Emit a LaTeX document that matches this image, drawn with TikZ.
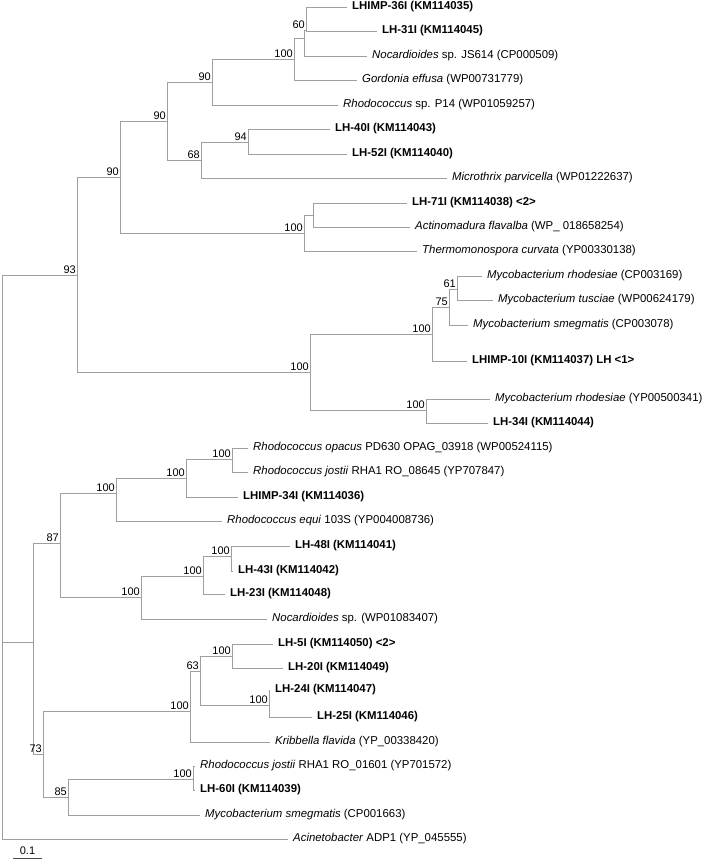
\documentclass[tikz,border=0pt]{standalone}
\usepackage{fontspec}
\setmainfont{Liberation Sans}
\usetikzlibrary{positioning,calc}

\tikzset{
  branch/.style={draw=gray!75, line width=0.8pt},
  leaf/.style={anchor=west, inner xsep=5pt, inner ysep=0pt, font=\fontsize{11.4}{13}\selectfont},
  boot/.style={anchor=south east, inner sep=1pt, font=\fontsize{11}{12}\selectfont},
}

\begin{document}
\begin{tikzpicture}[x=1pt, y=-1pt]
  \useasboundingbox (0,0) rectangle (709,861);

  % internal nodes
  \coordinate (root) at (2,275);
  \coordinate (n93) at (77,275);
  \coordinate (n90a) at (120,177);
  \coordinate (n90b) at (167,121);
  \coordinate (n90c) at (212,82);
  \coordinate (n100a) at (294,59);
  \coordinate (nnoc) at (304,38);
  \coordinate (n60) at (306,30);
  \coordinate (n68) at (201,160);
  \coordinate (n94) at (248,142);
  \coordinate (n100b) at (304,233);
  \coordinate (nact) at (313,215);
  \coordinate (n100c) at (310,372);
  \coordinate (n100myc) at (432,334);
  \coordinate (n75) at (449,307);
  \coordinate (n61) at (457,289);
  \coordinate (n100rho) at (426,410);
  \coordinate (nmid) at (33,642);
  \coordinate (n87) at (60,543);
  \coordinate (n100d) at (116,493);
  \coordinate (n100e) at (186,478);
  \coordinate (n100f) at (232,459);
  \coordinate (n100g) at (141,597);
  \coordinate (n100h) at (203,576);
  \coordinate (n100i) at (231,556);
  \coordinate (n73) at (43,754);
  \coordinate (n100j) at (190,711);
  \coordinate (n63) at (200,671);
  \coordinate (n100k) at (232,656);
  \coordinate (n100l) at (269,705);
  \coordinate (n85) at (68,797);
  \coordinate (n100m) at (193,779);

  % leaves
  \node[leaf] (lhimp36) at (347,7) {\textbf{LHIMP-36I (KM114035)}};
  \node[leaf] (lh31) at (377,31) {\textbf{LH-31I (KM114045)}};
  \node[leaf] (nocjs) at (367,56) {\textit{Nocardioides} sp. JS614 (CP000509)};
  \node[leaf] (gord) at (357,80) {\textit{Gordonia effusa} (WP00731779)};
  \node[leaf] (rhop14) at (338,105) {\textit{Rhodococcus} sp. P14 (WP01059257)};
  \node[leaf] (lh40) at (330,129) {\textbf{LH-40I (KM114043)}};
  \node[leaf] (lh52) at (347,154) {\textbf{LH-52I (KM114040)}};
  \node[leaf] (micro) at (447,178) {\textit{Microthrix parvicella} (WP01222637)};
  \node[leaf] (lh71) at (407,203) {\textbf{LH-71I (KM114038) <2>}};
  \node[leaf] (actino) at (410,227) {\textit{Actinomadura flavalba} (WP\_ 018658254)};
  \node[leaf] (thermo) at (417,251) {\textit{Thermomonospora curvata} (YP00330138)};
  \node[leaf] (mrhoA) at (482,276) {\textit{Mycobacterium rhodesiae} (CP003169)};
  \node[leaf] (mtus) at (493,300) {\textit{Mycobacterium tusciae} (WP00624179)};
  \node[leaf] (msmegA) at (468,325) {\textit{Mycobacterium smegmatis} (CP003078)};
  \node[leaf] (lhimp10) at (467,361) {\textbf{LHIMP-10I (KM114037) LH <1>}};
  \node[leaf] (mrhoB) at (490,399) {\textit{Mycobacterium rhodesiae} (YP00500341)};
  \node[leaf] (lh34) at (488,423) {\textbf{LH-34I (KM114044)}};
  \node[leaf] (rhopac) at (248,448) {\textit{Rhodococcus opacus} PD630 OPAG\_03918 (WP00524115)};
  \node[leaf] (rhjosA) at (248,472) {\textit{Rhodococcus jostii} RHA1 RO\_08645 (YP707847)};
  \node[leaf] (lhimp34) at (238,497) {\textbf{LHIMP-34I (KM114036)}};
  \node[leaf] (rhequi) at (222,521) {\textit{Rhodococcus equi} 103S (YP004008736)};
  \node[leaf] (lh48) at (290,546) {\textbf{LH-48I (KM114041)}};
  \node[leaf] (lh43) at (233,571) {\textbf{LH-43I (KM114042)}};
  \node[leaf] (lh23) at (225,594) {\textbf{LH-23I (KM114048)}};
  \node[leaf] (nocsp) at (267,619) {\textit{Nocardioides} sp. (WP01083407)};
  \node[leaf] (lh5) at (273,644) {\textbf{LH-5I (KM114050) <2>}};
  \node[leaf] (lh20) at (283,668) {\textbf{LH-20I (KM114049)}};
  \node[leaf] (lh24) at (270,690) {\textbf{LH-24I (KM114047)}};
  \node[leaf] (lh25) at (312,717) {\textbf{LH-25I (KM114046)}};
  \node[leaf] (kribb) at (270,742) {\textit{Kribbella flavida} (YP\_00338420)};
  \node[leaf] (rhjosB) at (195,766) {\textit{Rhodococcus jostii} RHA1 RO\_01601 (YP701572)};
  \node[leaf] (lh60) at (195,790) {\textbf{LH-60I (KM114039)}};
  \node[leaf] (msmegB) at (200,815) {\textit{Mycobacterium smegmatis} (CP001663)};
  \node[leaf] (acin) at (288,839) {\textit{Acinetobacter} ADP1 (YP\_045555)};

  % branches
  \draw[branch] (root) |- (n93);
  \draw[branch] (root) |- (nmid);
  \draw[branch] (root) |- (acin.west);
  \draw[branch] (n93) |- (n90a);
  \draw[branch] (n93) |- (n100c);
  \draw[branch] (n90a) |- (n90b);
  \draw[branch] (n90a) |- (n100b);
  \draw[branch] (n90b) |- (n90c);
  \draw[branch] (n90b) |- (n68);
  \draw[branch] (n90c) |- (n100a);
  \draw[branch] (n90c) |- (rhop14.west);
  \draw[branch] (n100a) |- (nnoc);
  \draw[branch] (n100a) |- (gord.west);
  \draw[branch] (nnoc) |- (n60);
  \draw[branch] (nnoc) |- (nocjs.west);
  \draw[branch] (n60) |- (lhimp36.west);
  \draw[branch] (n60) |- (lh31.west);
  \draw[branch] (n68) |- (n94);
  \draw[branch] (n68) |- (micro.west);
  \draw[branch] (n94) |- (lh40.west);
  \draw[branch] (n94) |- (lh52.west);
  \draw[branch] (n100b) |- (nact);
  \draw[branch] (n100b) |- (thermo.west);
  \draw[branch] (nact) |- (lh71.west);
  \draw[branch] (nact) |- (actino.west);
  \draw[branch] (n100c) |- (n100myc);
  \draw[branch] (n100c) |- (n100rho);
  \draw[branch] (n100myc) |- (n75);
  \draw[branch] (n100myc) |- (lhimp10.west);
  \draw[branch] (n75) |- (n61);
  \draw[branch] (n75) |- (msmegA.west);
  \draw[branch] (n61) |- (mrhoA.west);
  \draw[branch] (n61) |- (mtus.west);
  \draw[branch] (n100rho) |- (mrhoB.west);
  \draw[branch] (n100rho) |- (lh34.west);
  \draw[branch] (nmid) |- (n87);
  \draw[branch] (nmid) |- (n73);
  \draw[branch] (n87) |- (n100d);
  \draw[branch] (n87) |- (n100g);
  \draw[branch] (n100d) |- (n100e);
  \draw[branch] (n100d) |- (rhequi.west);
  \draw[branch] (n100e) |- (n100f);
  \draw[branch] (n100e) |- (lhimp34.west);
  \draw[branch] (n100f) |- (rhopac.west);
  \draw[branch] (n100f) |- (rhjosA.west);
  \draw[branch] (n100g) |- (n100h);
  \draw[branch] (n100g) |- (nocsp.west);
  \draw[branch] (n100h) |- (n100i);
  \draw[branch] (n100h) |- (lh23.west);
  \draw[branch] (n100i) |- (lh48.west);
  \draw[branch] (n100i) |- (lh43.west);
  \draw[branch] (n73) |- (n100j);
  \draw[branch] (n73) |- (n85);
  \draw[branch] (n100j) |- (n63);
  \draw[branch] (n100j) |- (kribb.west);
  \draw[branch] (n63) |- (n100k);
  \draw[branch] (n63) |- (n100l);
  \draw[branch] (n100k) |- (lh5.west);
  \draw[branch] (n100k) |- (lh20.west);
  \draw[branch] (n100l) |- (lh24.west);
  \draw[branch] (n100l) |- (lh25.west);
  \draw[branch] (n85) |- (n100m);
  \draw[branch] (n85) |- (msmegB.west);
  \draw[branch] (n100m) |- (rhjosB.west);
  \draw[branch] (n100m) |- (lh60.west);

  % bootstrap values
  \node[boot] (b93) at (n93) {93};
  \node[boot] (b90a) at (n90a) {90};
  \node[boot] (b90b) at (n90b) {90};
  \node[boot] (b90c) at (n90c) {90};
  \node[boot] (b100a) at (n100a) {100};
  \node[boot] (b60) at (n60) {60};
  \node[boot] (b68) at (n68) {68};
  \node[boot] (b94) at (n94) {94};
  \node[boot] (b100b) at (n100b) {100};
  \node[boot] (b100c) at (n100c) {100};
  \node[boot] (b100myc) at (n100myc) {100};
  \node[boot] (b75) at (n75) {75};
  \node[boot] (b61) at (n61) {61};
  \node[boot] (b100rho) at (n100rho) {100};
  \node[boot] (b87) at (n87) {87};
  \node[boot] (b100d) at (n100d) {100};
  \node[boot] (b100e) at (n100e) {100};
  \node[boot] (b100f) at (n100f) {100};
  \node[boot] (b100g) at (n100g) {100};
  \node[boot] (b100h) at (n100h) {100};
  \node[boot] (b100i) at (n100i) {100};
  \node[boot] (b73) at (n73) {73};
  \node[boot] (b100j) at (n100j) {100};
  \node[boot] (b63) at (n63) {63};
  \node[boot] (b100k) at (n100k) {100};
  \node[boot] (b100l) at (n100l) {100};
  \node[boot] (b85) at (n85) {85};
  \node[boot] (b100m) at (n100m) {100};

  % scale bar
  \coordinate (sbl) at (13,858);
  \coordinate (sbr) at (42,858);
  \draw[branch, draw=black!70] (sbl) -- (sbr);
  \node[font=\fontsize{11}{12}\selectfont, anchor=south, inner sep=1pt] (sblab) at ($(sbl)!0.5!(sbr)+(0,-2)$) {0.1};
\end{tikzpicture}
\end{document}
